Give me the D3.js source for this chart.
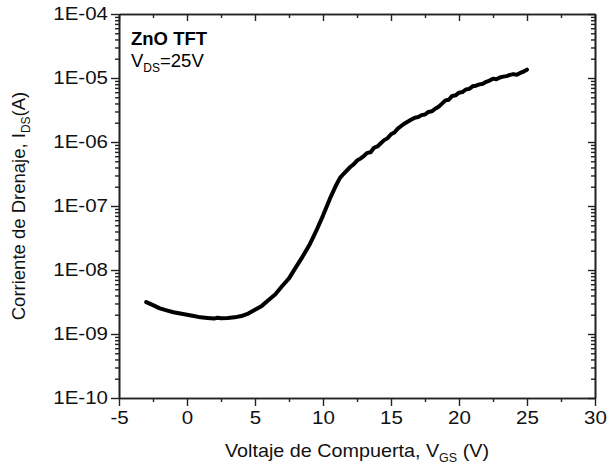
<!DOCTYPE html>
<html>
<head>
<meta charset="utf-8">
<script src="https://cdn.jsdelivr.net/npm/d3@7"></script>
<style>
  html, body { margin: 0; padding: 0; background: #fff; }
  svg { display: block; font-family: "Liberation Sans", Arial, sans-serif; }
</style>
</head>
<body>
<svg id="chart" width="607" height="473"></svg>
<script>
// Gate voltage (V)
const vgs = [
  -3, -2.5, -2, -1.5, -1, -0.5, 0, 0.5, 1, 1.5, 2, 2.25, 2.5, 3, 3.5, 4, 4.5, 5, 5.5, 6, 6.5, 7, 7.5,
  8, 8.5, 9, 9.5, 10, 10.5, 11, 11.25, 11.5, 12, 12.25, 12.5, 12.75, 13, 13.25, 13.5, 13.75, 14, 14.25, 14.5, 14.75, 15, 15.25, 15.5, 15.75,
  16, 16.25, 16.5, 16.75, 17, 17.25, 17.5, 17.75, 18, 18.25, 18.5, 18.75, 19, 19.25, 19.5, 19.75,
  20, 20.25, 20.5, 20.75, 21, 21.25, 21.5, 21.75, 22, 22.25, 22.5, 22.75, 23, 23.25, 23.5, 23.75,
  24, 24.25, 24.5, 24.75, 25
];
// Drain current (A)
const ids = [
  3.15e-9, 2.82e-9, 2.51e-9, 2.34e-9, 2.19e-9, 2.09e-9, 2.0e-9, 1.91e-9, 1.82e-9, 1.78e-9, 1.74e-9, 1.80e-9, 1.76e-9, 1.78e-9, 1.82e-9, 1.91e-9, 2.09e-9, 2.40e-9, 2.75e-9, 3.39e-9, 4.17e-9, 5.62e-9, 7.41e-9,
  1.10e-8, 1.62e-8, 2.45e-8, 4.07e-8, 7.08e-8, 1.29e-7, 2.19e-7, 2.75e-7, 3.16e-7, 4.07e-7, 4.47e-7, 5.13e-7, 5.50e-7, 6.03e-7, 6.76e-7, 6.92e-7, 8.13e-7, 8.51e-7, 9.55e-7, 1.07e-6, 1.15e-6, 1.32e-6, 1.41e-6, 1.62e-6, 1.78e-6,
  1.95e-6, 2.09e-6, 2.24e-6, 2.40e-6, 2.45e-6, 2.63e-6, 2.69e-6, 2.95e-6, 3.02e-6, 3.31e-6, 3.55e-6, 3.98e-6, 4.47e-6, 4.57e-6, 5.25e-6, 5.37e-6,
  5.89e-6, 6.03e-6, 6.61e-6, 6.76e-6, 7.41e-6, 7.59e-6, 7.94e-6, 8.13e-6, 8.71e-6, 9.12e-6, 9.77e-6, 9.55e-6, 1.02e-5, 1.05e-5, 1.07e-5, 1.12e-5,
  1.15e-5, 1.12e-5, 1.20e-5, 1.26e-5, 1.35e-5
];
const xTicks = [-5, 0, 5, 10, 15, 20, 25, 30];
const xTickLabels = ["-5", "0", "5", "10", "15", "20", "25", "30"];
const xMinor = [-2.5, 2.5, 7.5, 12.5, 17.5, 22.5, 27.5];
const yTicks = [1e-4, 1e-5, 1e-6, 1e-7, 1e-8, 1e-9, 1e-10];
const yTickLabels = ["1E-04", "1E-05", "1E-06", "1E-07", "1E-08", "1E-09", "1E-10"];
const yMinor = [];
for (let e = -10; e < -4; e++) for (let m = 2; m <= 9; m++) yMinor.push(m * Math.pow(10, e));

const L = 119, R = 595, T = 14, B = 398;
const svg = d3.select("#chart");
const x = d3.scaleLinear().domain([-5, 30]).range([L, R]);
const y = d3.scaleLog().domain([1e-10, 1e-4]).range([B, T]);

const axisColor = "#222";
function style(g) {
  g.selectAll("path.domain").attr("stroke", axisColor).attr("stroke-width", 1.6);
  g.selectAll(".tick line").attr("stroke", axisColor).attr("stroke-width", 1.4);
  g.selectAll(".tick text").attr("fill", "#111").attr("font-size", 18)
    .attr("font-family", "'Liberation Sans', Arial, sans-serif");
}
// widen tick labels horizontally about their anchor
function stretch(g, s) {
  g.selectAll(".tick text").each(function () {
    const ax = +(this.getAttribute("x") || 0);
    this.setAttribute("transform", `translate(${ax},0) scale(${s},1) translate(${-ax},0)`);
  });
}

// bottom axis (outward)
svg.append("g").attr("transform", `translate(0,${B})`)
  .call(d3.axisBottom(x).tickValues(xMinor).tickSize(4).tickFormat("").tickSizeOuter(0)).call(style);
svg.append("g").attr("transform", `translate(0,${B})`)
  .call(d3.axisBottom(x).tickValues(xTicks).tickSize(8).tickPadding(5)
    .tickFormat((d, i) => xTickLabels[i]).tickSizeOuter(0))
  .call(style).call(g => stretch(g, 1.14));
// top axis (inward)
svg.append("g").attr("transform", `translate(0,${T})`)
  .call(d3.axisBottom(x).tickValues(xMinor).tickSize(4).tickFormat("").tickSizeOuter(0)).call(style);
svg.append("g").attr("transform", `translate(0,${T})`)
  .call(d3.axisBottom(x).tickValues(xTicks).tickSize(7).tickFormat("").tickSizeOuter(0)).call(style);
// left axis (outward)
svg.append("g").attr("transform", `translate(${L},0)`)
  .call(d3.axisLeft(y).tickValues(yMinor).tickSize(4).tickFormat("").tickSizeOuter(0)).call(style);
svg.append("g").attr("transform", `translate(${L},0)`)
  .call(d3.axisLeft(y).tickValues(yTicks).tickSize(8).tickPadding(3)
    .tickFormat((d, i) => yTickLabels[i]).tickSizeOuter(0))
  .call(style).call(g => stretch(g, 1.14));
// right axis (inward)
svg.append("g").attr("transform", `translate(${R},0)`)
  .call(d3.axisLeft(y).tickValues(yMinor).tickSize(4).tickFormat("").tickSizeOuter(0)).call(style);
svg.append("g").attr("transform", `translate(${R},0)`)
  .call(d3.axisLeft(y).tickValues(yTicks).tickSize(7).tickFormat("").tickSizeOuter(0)).call(style);

// curve
const pts = vgs.map((v, i) => [v, ids[i]]);
svg.append("path").datum(pts)
  .attr("fill", "none").attr("stroke", "#000").attr("stroke-width", 4)
  .attr("stroke-linejoin", "round").attr("stroke-linecap", "round")
  .attr("d", d3.line().x(d => x(d[0])).y(d => y(d[1])));

// annotations
svg.append("text").attr("x", 131).attr("y", 45).attr("font-size", 18.5).attr("font-weight", "bold")
  .attr("fill", "#000").text("ZnO TFT");
const t2 = svg.append("text").attr("x", 131).attr("y", 67).attr("font-size", 18.5).attr("fill", "#000");
t2.append("tspan").text("V");
t2.append("tspan").attr("font-size", 12).attr("dy", 5).text("DS");
t2.append("tspan").attr("dy", -5).text("=25V");

// x title
const xt = svg.append("text").attr("x", (L + R) / 2).attr("y", 457).attr("text-anchor", "middle")
  .attr("font-size", 19).attr("fill", "#111").attr("transform", `translate(${(L + R) / 2},0) scale(1.04,1) translate(${-(L + R) / 2},0)`);
xt.append("tspan").text("Voltaje de Compuerta, V");
xt.append("tspan").attr("font-size", 12).attr("dy", 5).text("GS");
xt.append("tspan").attr("dy", -5).text(" (V)");

// y title
const yt = svg.append("text").attr("transform", `translate(25,${(T + B) / 2}) rotate(-90)`)
  .attr("text-anchor", "middle").attr("font-size", 18.5).attr("fill", "#111");
yt.append("tspan").text("Corriente de Drenaje, I");
yt.append("tspan").attr("font-size", 12).attr("dy", 5).text("DS");
yt.append("tspan").attr("dy", -5).text("(A)");
</script>
</body>
</html>
